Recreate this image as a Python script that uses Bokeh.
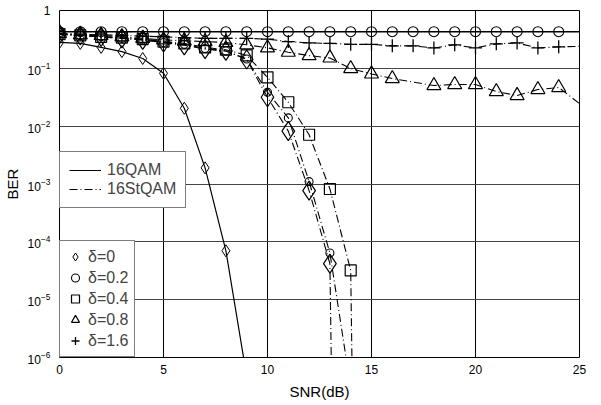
from bokeh.plotting import figure
from bokeh.models import Legend, LegendItem, FixedTicker, Range1d
from bokeh.embed import file_html
from bokeh.resources import INLINE

# ---- data ----
# 16QAM, delta = 0 (solid, small diamonds)
snr_qam_d0 = [0, 1, 2, 3, 4, 5, 6, 7, 8, 9]
ber_qam_d0 = [0.28, 0.27, 0.23, 0.195, 0.148, 0.082, 0.0204, 0.0019, 7.0e-5, 4.7e-7]

# 16QAM, delta = 0.2 (solid, circles)
snr_qam_d02 = [0, 1, 2, 3, 4, 5, 6, 7, 8, 9, 10, 11, 12, 13, 14, 15, 16, 17, 18, 19, 20, 21, 22, 23, 24, 25]
ber_qam_d02 = [0.43, 0.43, 0.43, 0.43, 0.43, 0.43, 0.43, 0.43, 0.43, 0.43, 0.43, 0.43, 0.43,
               0.43, 0.43, 0.43, 0.43, 0.43, 0.43, 0.43, 0.43, 0.43, 0.43, 0.43, 0.43, 0.43]

# 16StQAM, delta = 0 (dash-dot, large diamonds); last value ~ zero errors
snr_st_d0 = [0, 1, 2, 3, 4, 5, 6, 7, 8, 9, 10, 11, 12, 13, 14]
ber_st_d0 = [0.39, 0.37, 0.35, 0.33, 0.31, 0.28, 0.25, 0.215, 0.2, 0.142, 0.0316, 0.0082, 0.00077, 4.2e-5, 1e-30]

# 16StQAM, delta = 0.2 (dash-dot, small circles)
snr_st_d02 = [0, 1, 2, 3, 4, 5, 6, 7, 8, 9, 10, 11, 12, 13, 14]
ber_st_d02 = [0.39, 0.37, 0.35, 0.33, 0.31, 0.28, 0.26, 0.22, 0.2, 0.145, 0.0386, 0.0139, 0.0011, 6.4e-5, 3e-7]

# 16StQAM, delta = 0.4 (dash-dot, squares)
snr_st_d04 = [0, 1, 2, 3, 4, 5, 6, 7, 8, 9, 10, 11, 12, 13, 14, 15]
ber_st_d04 = [0.39, 0.37, 0.35, 0.34, 0.32, 0.29, 0.27, 0.23, 0.21, 0.167, 0.070, 0.0259, 0.0071, 0.00082, 3.2e-5, 1e-30]

# 16StQAM, delta = 0.8 (dash-dot, triangles)
snr_st_d08 = [0, 1, 2, 3, 4, 5, 6, 7, 8, 9, 10, 11, 12, 13, 14, 15, 16, 18, 19, 20, 21, 22, 23, 24, 25]
ber_st_d08 = [0.40, 0.38, 0.37, 0.35, 0.33, 0.31, 0.30, 0.29, 0.28, 0.255, 0.226, 0.19, 0.166, 0.151,
              0.099, 0.080, 0.0666, 0.0504, 0.0525, 0.0525, 0.0397, 0.0339, 0.043, 0.0466, 0.0246]

# 16StQAM, delta = 1.6 (dash-dot, plus)
snr_st_d16 = [0, 1, 2, 3, 4, 5, 6, 7, 8, 9, 10, 11, 12, 13, 14, 15, 16, 17, 18, 19, 20, 21, 22, 23, 24, 25]
ber_st_d16 = [0.40, 0.39, 0.38, 0.37, 0.36, 0.35, 0.34, 0.33, 0.33, 0.33, 0.32, 0.29, 0.275, 0.27,
              0.26, 0.26, 0.245, 0.245, 0.225, 0.255, 0.225, 0.265, 0.275, 0.225, 0.235, 0.24]

x_ticks = [0, 5, 10, 15, 20, 25]
y_ticks = [1e-6, 1e-5, 1e-4, 1e-3, 1e-2, 1e-1, 1]

FONT = "Liberation Sans"
DASHDOT = "8 3 1 3"

p = figure(frame_width=520, frame_height=347, y_axis_type="log",
           x_range=Range1d(0, 25), y_range=Range1d(1e-6, 1),
           output_backend="svg", toolbar_location=None,
           min_border_left=56, min_border_right=14, min_border_top=10, min_border_bottom=38)

p.background_fill_color = "white"
p.border_fill_color = "white"
p.outline_line_color = "black"
p.outline_line_width = 1

p.xaxis.ticker = x_ticks
p.yaxis.ticker = FixedTicker(ticks=y_ticks)
p.yaxis.major_label_overrides = {1: "1"}
for ax in (p.xaxis, p.yaxis):
    ax.axis_line_color = None
    ax.major_tick_line_color = None
    ax.minor_tick_line_color = None
    ax.major_tick_out = 0
    ax.major_tick_in = 0
    ax.minor_tick_out = 0
    ax.minor_tick_in = 0
    ax.major_label_text_font = FONT
    ax.major_label_text_font_size = "12px"
    ax.major_label_text_color = "black"
    ax.axis_label_text_font = FONT
    ax.axis_label_text_font_size = "15px"
    ax.axis_label_text_font_style = "normal"
    ax.axis_label_text_color = "black"
p.xaxis.major_label_standoff = 7
p.yaxis.major_label_standoff = 9
p.xaxis.axis_label = "SNR(dB)"
p.yaxis.axis_label = "BER"
p.xaxis.axis_label_standoff = 6
p.yaxis.axis_label_standoff = 4

p.xgrid.grid_line_color = "black"
p.xgrid.grid_line_width = 1
p.ygrid.grid_line_color = "#444444"
p.ygrid.grid_line_width = 1

def inrange(xs, ys, xmax=25):
    pts = [(a, b) for a, b in zip(xs, ys) if 1e-6 <= b <= 1 and a <= xmax]
    return [a for a, _ in pts], [b for _, b in pts]

# 16QAM curves (solid)
l_qam0 = p.line(snr_qam_d0, ber_qam_d0, line_color="black", line_width=1.2)
mx, my = inrange(snr_qam_d0, ber_qam_d0)
m_qam0 = p.scatter(mx, my, marker="diamond", size=12,
                   fill_color=None, line_color="black", line_width=1)

l_qam02 = p.line(snr_qam_d02, ber_qam_d02, line_color="black", line_width=1.4)
mx, my = inrange(snr_qam_d02, ber_qam_d02, 24)
m_qam02 = p.scatter(mx, my, marker="circle", size=10,
                    fill_color=None, line_color="black", line_width=1.1)

# 16StQAM curves (dash-dot)
l_st0 = p.line(snr_st_d0, ber_st_d0, line_color="black", line_width=1.1, line_dash=DASHDOT)
mx, my = inrange(snr_st_d0, ber_st_d0)
p.scatter(mx, my, marker="diamond", size=19,
          fill_color=None, line_color="black", line_width=1.2)

p.line(snr_st_d02, ber_st_d02, line_color="black", line_width=1.1, line_dash=DASHDOT)
mx, my = inrange(snr_st_d02, ber_st_d02)
p.scatter(mx, my, marker="circle", size=8,
          fill_color=None, line_color="black", line_width=1.1)

p.line(snr_st_d04, ber_st_d04, line_color="black", line_width=1.1, line_dash=DASHDOT)
mx, my = inrange(snr_st_d04, ber_st_d04)
m_st04 = p.scatter(mx, my, marker="square", size=11,
                   fill_color=None, line_color="black", line_width=1.2)

p.line(snr_st_d08, ber_st_d08, line_color="black", line_width=1.1, line_dash=DASHDOT)
mx, my = inrange(snr_st_d08, ber_st_d08, 24)
m_st08 = p.scatter(mx, my, marker="triangle", size=14,
                   fill_color=None, line_color="black", line_width=1.2)

p.line(snr_st_d16, ber_st_d16, line_color="black", line_width=1.1, line_dash=DASHDOT)
mx, my = inrange(snr_st_d16, ber_st_d16, 24)
m_st16 = p.scatter(mx, my, marker="cross", size=13,
                   fill_color=None, line_color="black", line_width=1.3)

leg1 = Legend(items=[LegendItem(label="16QAM", renderers=[l_qam0]),
                     LegendItem(label="16StQAM", renderers=[l_st0])],
              location=(0, 149), margin=0, padding=9, spacing=1,
              glyph_width=32, glyph_height=18, label_height=18, label_standoff=6,
              label_text_font=FONT, label_text_font_size="16px",
              border_line_color="black", border_line_width=1,
              background_fill_color="white", background_fill_alpha=1)
leg2 = Legend(items=[LegendItem(label="δ=0", renderers=[m_qam0]),
                     LegendItem(label="δ=0.2", renderers=[m_qam02]),
                     LegendItem(label="δ=0.4", renderers=[m_st04]),
                     LegendItem(label="δ=0.8", renderers=[m_st08]),
                     LegendItem(label="δ=1.6", renderers=[m_st16])],
              location=(0, 0), margin=0, padding=5, spacing=0,
              glyph_width=20, glyph_height=21, label_height=21, label_standoff=3,
              label_text_font=FONT, label_text_font_size="16px",
              border_line_color="black", border_line_width=1,
              background_fill_color="white", background_fill_alpha=1)
p.add_layout(leg1)
p.add_layout(leg2)

open("out.html", "w").write(file_html(p, INLINE))
